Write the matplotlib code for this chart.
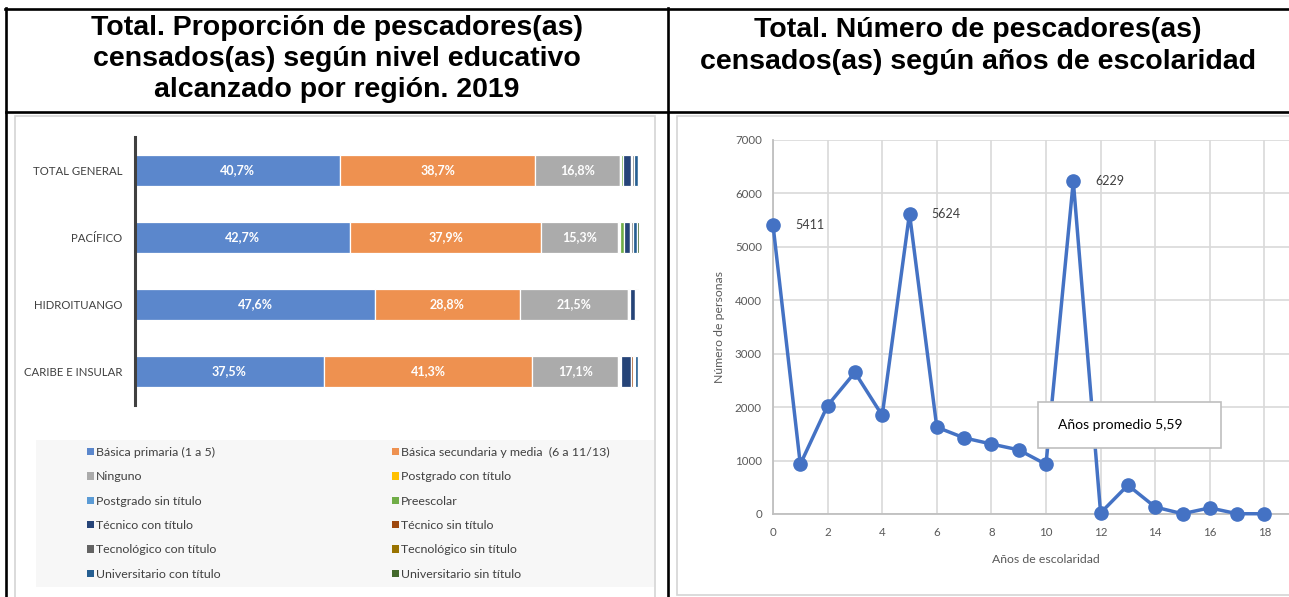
import matplotlib
matplotlib.use("Agg")
import matplotlib.pyplot as plt
import numpy as np
from matplotlib.lines import Line2D
from matplotlib.patches import Rectangle, Patch

# ---------------- data ----------------
title_left = ["Total. Proporción de pescadores(as)",
              "censados(as) según nivel educativo",
              "alcanzado por región. 2019"]
title_right = ["Total. Número de pescadores(as)",
               "censados(as) según años de escolaridad"]

regions = ["TOTAL GENERAL", "PACÍFICO", "HIDROITUANGO", "CARIBE E INSULAR"]
levels = ["Básica primaria (1 a 5)", "Básica secundaria y media  (6 a 11/13)",
          "Ninguno", "Postgrado con título", "Postgrado sin título", "Preescolar",
          "Técnico con título", "Técnico sin título", "Tecnológico con título",
          "Tecnológico sin título", "Universitario con título", "Universitario sin título"]
# percentages per level for each region (same order as regions)
basica_primaria   = [40.7, 42.7, 47.6, 37.5]
basica_secundaria = [38.7, 37.9, 28.8, 41.3]
ninguno           = [16.8, 15.3, 21.5, 17.1]
postgrado_con     = [0.1, 0.1, 0.0, 0.1]
postgrado_sin     = [0.1, 0.3, 0.2, 0.2]
preescolar        = [0.4, 0.7, 0.2, 0.3]
tecnico_con       = [1.6, 1.2, 1.0, 1.9]
tecnico_sin       = [0.3, 0.3, 0.1, 0.4]
tecnologico_con   = [0.3, 0.3, 0.2, 0.3]
tecnologico_sin   = [0.1, 0.1, 0.0, 0.1]
universitario_con = [0.7, 0.8, 0.3, 0.6]
universitario_sin = [0.2, 0.3, 0.1, 0.2]
labelled_levels = 3  # first three series carry data labels

anios = list(range(0, 19))
personas = [5411, 930, 2030, 2650, 1845, 5624, 1625, 1425, 1310, 1200, 930,
            6229, 20, 540, 130, 5, 115, 5, 5]
labelled_years = [0, 5, 11]
x_ticks = list(range(0, 19, 2))
y_ticks = list(range(0, 7001, 1000))
promedio_text = "Años promedio 5,59"
xlabel_right = "Años de escolaridad"
ylabel_right = "Número de personas"

# ---------------- style ----------------
level_colors = ["#5B87CC", "#EE9150", "#ABABAB", "#FFC000", "#5B9BD5", "#70AD47",
                "#264478", "#9E480E", "#636363", "#997300", "#255E91", "#43682B"]
chart_font = ["Lato", "DejaVu Sans"]
title_font = ["Liberation Sans", "DejaVu Sans"]

W, H = 1289, 597
fig = plt.figure(figsize=(W / 100, H / 100), dpi=100)
fig.patch.set_facecolor("white")

def fx(px):
    return px / W

def fy(py):
    return 1 - py / H

# ---------------- table frame ----------------
for xs, ys in [((5, W), (9, 9)), ((6, 6), (8, H)), ((668, 668), (8, H)), ((6, W), (112, 112))]:
    fig.add_artist(Line2D([fx(x) for x in xs], [fy(y) for y in ys],
                          transform=fig.transFigure, color="black", lw=1.9))

# chart frames
fig.add_artist(Rectangle((fx(15), fy(600)), (655 - 15) / W, (600 - 116) / H,
                         transform=fig.transFigure, facecolor="white",
                         edgecolor="#D4D4D4", lw=1.2, zorder=0))
fig.add_artist(Rectangle((fx(677), fy(595)), (1295 - 677) / W, (595 - 116) / H,
                         transform=fig.transFigure, facecolor="white",
                         edgecolor="#D4D4D4", lw=1.2, zorder=0))

# titles
for i, line in enumerate(title_left):
    fig.text(fx(337), fy(35 + 31 * i), line, ha="center", va="baseline",
             fontsize=20.5, fontweight="bold", family=title_font)
for i, line in enumerate(title_right):
    fig.text(fx(978), fy(37 + 32 * i), line, ha="center", va="baseline",
             fontsize=20.5, fontweight="bold", family=title_font)

# ---------------- left chart: stacked bars ----------------
ax1 = fig.add_axes([fx(135), fy(405), (639 - 135) / W, (405 - 137) / H])
series = [basica_primaria, basica_secundaria, ninguno, postgrado_con, postgrado_sin,
          preescolar, tecnico_con, tecnico_sin, tecnologico_con, tecnologico_sin,
          universitario_con, universitario_sin]
data = np.array(series, dtype=float)
data = data / data.sum(axis=0) * 100
ypos = np.arange(len(regions))
left = np.zeros(len(regions))
handles = []
for k, (vals, name, col) in enumerate(zip(data, levels, level_colors)):
    bars = ax1.barh(ypos, vals, left=left, height=0.46, color=col,
                    edgecolor="white", linewidth=0.9, label=name)
    if k < labelled_levels:
        for b, v in zip(bars, vals):
            ax1.text(b.get_x() + b.get_width() / 2, b.get_y() + b.get_height() / 2,
                     f"{v:.1f}%".replace(".", ","), ha="center", va="center",
                     color="white", fontsize=9, fontweight="bold", family=chart_font)
    left += vals
    handles.append(Patch(facecolor=col, edgecolor="none"))

ax1.set_xlim(0, 100)
ax1.set_ylim(len(regions) - 0.5, -0.5)
ax1.set_yticks(ypos)
ax1.set_yticklabels(regions, family=chart_font, fontsize=8.2, color="#404040")
ax1.tick_params(axis="y", length=0, pad=9)
ax1.xaxis.set_visible(False)
for s in ["top", "right", "bottom"]:
    ax1.spines[s].set_visible(False)
ax1.spines["left"].set_color("#404040")
ax1.spines["left"].set_linewidth(2.2)
ax1.patch.set_alpha(0)

# legend background
fig.add_artist(Rectangle((fx(36), fy(587)), (654 - 36) / W, (587 - 440) / H,
                         transform=fig.transFigure, facecolor="#F7F7F7",
                         edgecolor="none", zorder=1))
leg_kw = dict(loc="upper left", frameon=False, handlelength=0.55,
              handleheight=0.55, handletextpad=0.2, labelspacing=1.08,
              borderpad=0, borderaxespad=0, prop={"family": chart_font, "size": 8.9})
lg1 = fig.legend(handles[0::2], levels[0::2], bbox_to_anchor=(fx(87), fy(447)), **leg_kw)
lg2 = fig.legend(handles[1::2], levels[1::2], bbox_to_anchor=(fx(392), fy(447)), **leg_kw)
for lg in (lg1, lg2):
    lg.set_zorder(3)
    for t in lg.get_texts():
        t.set_color("#404040")

# ---------------- right chart: line ----------------
ax2 = fig.add_axes([fx(773), fy(514), (20 * 27.3) / W, (514 - 140) / H])
ax2.plot(anios, personas, color="#4472C4", lw=2.5, marker="o", ms=9.5,
         clip_on=False, zorder=3)
for yr in labelled_years:
    ax2.annotate(str(personas[yr]), (yr, personas[yr]), xytext=(16, 0),
                 textcoords="offset points", va="center", ha="left",
                 fontsize=9, color="#404040", family=chart_font)
ax2.set_xlim(0, 20)
ax2.set_ylim(0, 7000)
ax2.set_xticks(x_ticks)
ax2.set_yticks(y_ticks)
ax2.xaxis.set_minor_locator(matplotlib.ticker.FixedLocator([20]))
ax2.grid(True, which="both", color="#D9D9D9", lw=1.2)
ax2.set_axisbelow(True)
ax2.tick_params(length=0, labelsize=8.3, labelcolor="#595959")
ax2.tick_params(which="minor", length=0)
ax2.tick_params(axis="x", pad=9)
ax2.tick_params(axis="y", pad=8)
for t in ax2.get_xticklabels() + ax2.get_yticklabels():
    t.set_family(chart_font)
for s in ["top", "right"]:
    ax2.spines[s].set_visible(False)
for s in ["left", "bottom"]:
    ax2.spines[s].set_color("#BFBFBF")
    ax2.spines[s].set_linewidth(1.3)
ax2.set_xlabel(xlabel_right, fontsize=8.8, color="#595959", family=chart_font, labelpad=12)
ax2.set_ylabel(ylabel_right, fontsize=8.8, color="#595959", family=chart_font, labelpad=7)

ax2.add_patch(Rectangle((9.7, 1236), 6.7, 861, facecolor="white", edgecolor="#BFBFBF",
                        lw=1.2, zorder=5))
ax2.text(10.45, 1666, promedio_text, ha="left", va="center", fontsize=10,
         color="black", family=chart_font, zorder=6)

fig.savefig("out.png", dpi=100)
